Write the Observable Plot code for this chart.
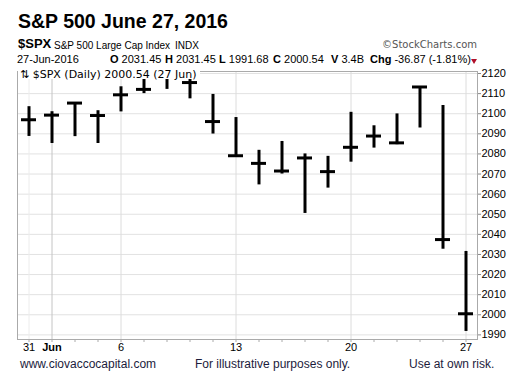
<!DOCTYPE html>
<html>
<head>
<meta charset="utf-8">
<script src="https://cdn.jsdelivr.net/npm/d3@7"></script>
<script src="https://cdn.jsdelivr.net/npm/@observablehq/plot@0.6"></script>
<style>
  html, body { margin: 0; padding: 0; background: #fff; }
  #wrap { position: relative; width: 519px; height: 381px; overflow: hidden; font-family: "Liberation Sans", Arial, sans-serif; color: #000; }
  .abs { position: absolute; white-space: nowrap; }
  #chart { position: absolute; left: 0; top: 0; }
</style>
</head>
<body>
<div id="wrap">
  <div id="chart"></div>
  <div class="abs" style="left:18px; top:10.5px; font-size:19.5px; line-height:20px; font-weight:bold;">S&amp;P 500 June 27, 2016</div>
  <div class="abs" style="left:18px; top:37px; font-size:13px; line-height:14px; font-weight:bold;">$SPX</div>
  <div class="abs" style="left:54px; top:39.5px; font-size:10px; line-height:11px;">S&amp;P 500 Large Cap Index</div>
  <div class="abs" style="left:175px; top:39.5px; font-size:10px; line-height:11px;">INDX</div>
  <div class="abs" style="right:42px; top:39.5px; font-size:10px; line-height:10px; color:#555; font-family:'DejaVu Sans', sans-serif;">©StockCharts.com</div>
  <div class="abs" style="left:17px; top:54px; font-size:11px; line-height:11px;">27-Jun-2016</div>
  <div class="abs" style="left:110px; top:54px; font-size:11px; line-height:11px;"><b>O</b> 2031.45</div>
  <div class="abs" style="left:165px; top:54px; font-size:11px; line-height:11px;"><b>H</b> 2031.45</div>
  <div class="abs" style="left:219px; top:54px; font-size:11px; line-height:11px;"><b>L</b> 1991.68</div>
  <div class="abs" style="left:273px; top:54px; font-size:11px; line-height:11px;"><b>C</b> 2000.54</div>
  <div class="abs" style="left:331px; top:54px; font-size:11px; line-height:11px;"><b>V</b> 3.4B</div>
  <div class="abs" style="left:370px; top:54px; font-size:11px; line-height:11px;"><b>Chg</b> -36.87 (-1.81%)</div>
  <div class="abs" style="left:471px; top:59px; width:0; height:0; border-left:3px solid transparent; border-right:3px solid transparent; border-top:5px solid #b0102a;"></div>
  <div class="abs" style="left:18px; top:71px; font-size:11px; line-height:8px; height:8px; padding:0 3px 0 2px; background:#fff; font-family:'DejaVu Sans', sans-serif;">⇅ $SPX (Daily) 2000.54 (27 Jun)</div>
  <div class="abs" style="left:20px; top:358px; font-size:12px; line-height:12px; color:#1c1c3c;">www.ciovaccocapital.com</div>
  <div class="abs" style="left:195px; top:358px; font-size:12px; line-height:12px; color:#1c1c3c;">For illustrative purposes only.</div>
  <div class="abs" style="left:409px; top:358px; font-size:12px; line-height:12px; color:#1c1c3c;">Use at own risk.</div>
</div>
<script>
// Trading days
const dates = ["2016-05-31","2016-06-01","2016-06-02","2016-06-03","2016-06-06","2016-06-07","2016-06-08","2016-06-09","2016-06-10","2016-06-13","2016-06-14","2016-06-15","2016-06-16","2016-06-17","2016-06-20","2016-06-21","2016-06-22","2016-06-23","2016-06-24","2016-06-27"];
const high  = [2103.5, 2101.0, 2105.3, 2101.5, 2113.4, 2119.2, 2120.6, 2117.6, 2109.6, 2098.1, 2081.8, 2086.2, 2080.0, 2078.8, 2100.7, 2094.0, 2099.9, 2113.3, 2104.1, 2031.5];
const low   = [2088.7, 2085.2, 2088.6, 2085.2, 2100.9, 2110.0, 2112.1, 2107.4, 2089.9, 2078.5, 2064.6, 2070.0, 2050.4, 2063.0, 2075.9, 2082.9, 2084.6, 2092.9, 2032.6, 1991.7];
const close = [2097.0, 2099.3, 2105.3, 2099.1, 2109.4, 2112.1, 2119.1, 2115.5, 2096.1, 2079.1, 2075.3, 2071.5, 2078.0, 2071.2, 2083.3, 2088.9, 2085.5, 2113.3, 2037.4, 2000.5];

// Tick labels
const xTickDates  = ["2016-05-31","2016-06-01","2016-06-06","2016-06-13","2016-06-20","2016-06-27"];
const xTickLabels = ["31","Jun","6","13","20","27"];
const yTicks = [1990, 2000, 2010, 2020, 2030, 2040, 2050, 2060, 2070, 2080, 2090, 2100, 2110, 2120];

const data = dates.map((d, i) => ({date: d, high: high[i], low: low[i], close: close[i]}));
const labelMap = new Map(xTickDates.map((d, i) => [d, xTickLabels[i]]));
const monthDate = xTickDates[1];
const firstDate = xTickDates[0];
const weekDates = xTickDates.slice(2);

const chart = Plot.plot({
  width: 519,
  height: 381,
  marginTop: 71,
  marginBottom: 42,
  marginLeft: 17,
  marginRight: 42,
  style: {fontFamily: "'Liberation Sans', Arial, sans-serif", fontSize: "11px", background: "transparent", color: "black"},
  x: {type: "band", domain: dates, padding: 0, axis: null},
  y: {domain: [1987.7, 2121], axis: null},
  marks: [
    Plot.ruleY(yTicks, {y: d => d, stroke: "#e2e2e2", strokeWidth: 1}),
    Plot.ruleX([firstDate], {x: d => d, stroke: "#ececec"}),
    Plot.ruleX(weekDates, {x: d => d, stroke: "#dcdcdc"}),
    Plot.ruleX([monthDate], {x: d => d, stroke: "#c4c4c4"}),
    Plot.ruleX(data, {x: "date", y1: "low", y2: "high", stroke: "black", strokeWidth: 3}),
    Plot.tickY(data, {x: "date", y: "close", stroke: "black", strokeWidth: 3, insetLeft: 4, insetRight: 4}),
    Plot.frame({stroke: "#aaaaaa"}),
    Plot.axisX({ticks: dates, label: null, tickSize: 3, tickPadding: 1, tickFormat: d => labelMap.get(d) ?? "", stroke: "#aaaaaa", fill: "black", fontSize: 11}),
    Plot.axisY({anchor: "right", label: null, ticks: yTicks, tickSize: 3, tickPadding: 1, tickFormat: d => String(d), stroke: "#888888", fill: "black", fontSize: 11})
  ]
});

d3.select(chart).selectAll("text").filter(function() { return this.textContent === "Jun"; }).attr("font-weight", "bold");
document.getElementById("chart").appendChild(chart);
</script>
</body>
</html>
